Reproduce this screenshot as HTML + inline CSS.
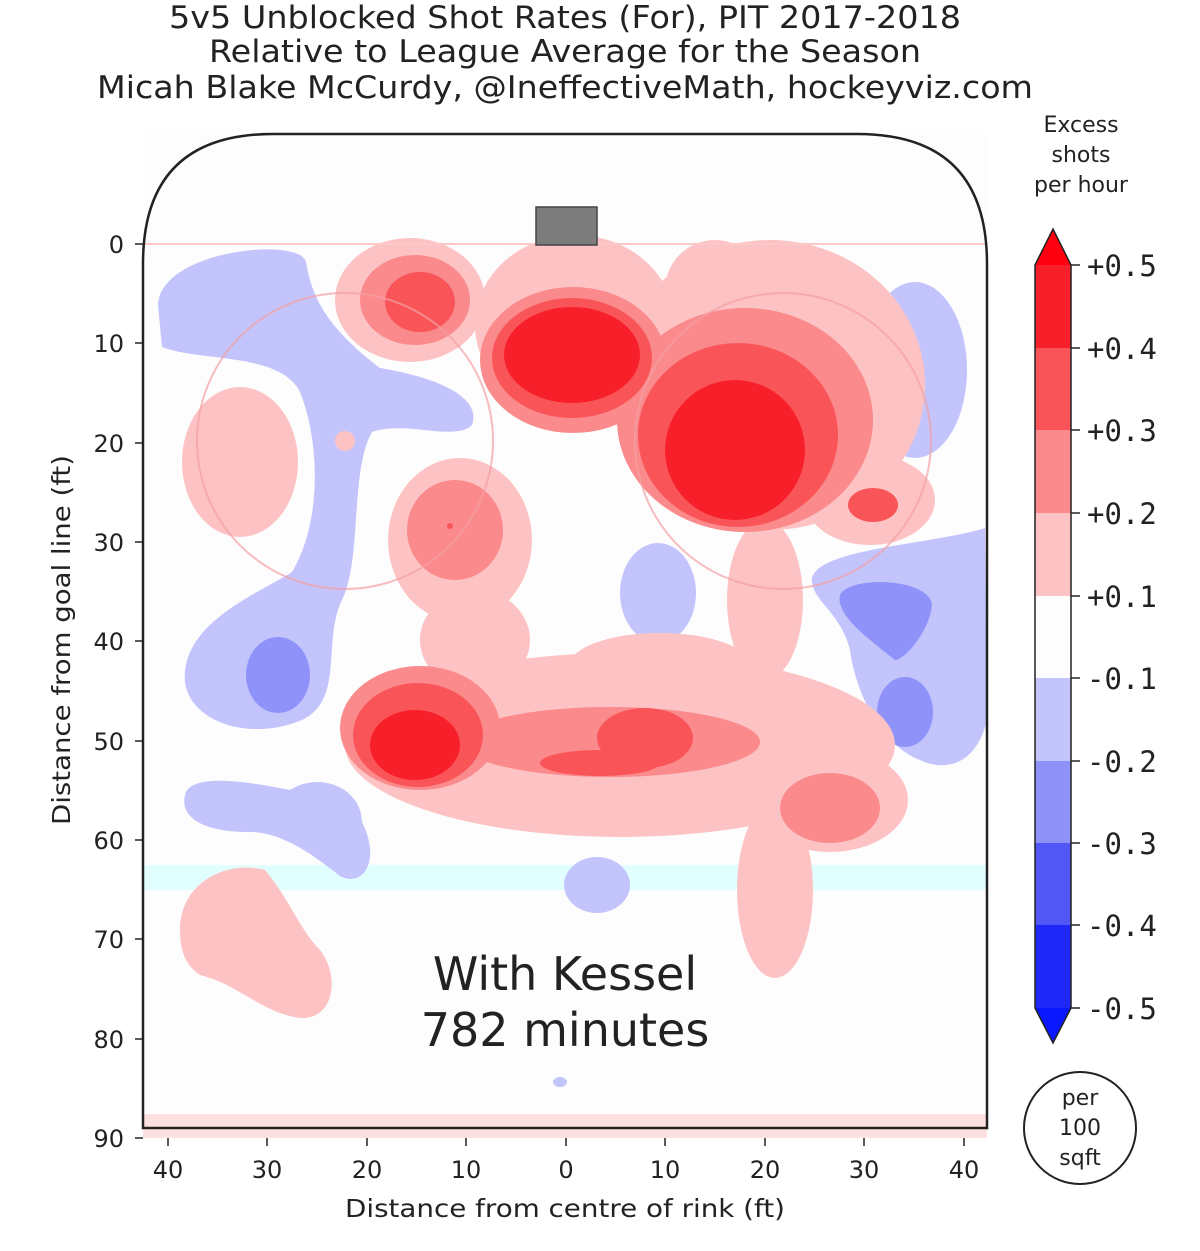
<!DOCTYPE html>
<html><head><meta charset="utf-8"><style>
body{margin:0;background:#fff;}
svg{display:block;}
text{font-family:"DejaVu Sans","Liberation Sans",sans-serif;fill:#222;}
.m{font-family:"DejaVu Sans Mono","Liberation Mono",monospace;}
</style></head><body>
<svg width="1200" height="1251" viewBox="0 0 1200 1251" xmlns="http://www.w3.org/2000/svg">
<defs><clipPath id="rk"><path d="M143,1128 L143,264 Q143,134 273,134 L857,134 Q987,134 987,264 L987,1128 Z"/></clipPath></defs>
<text x="565" y="28" font-size="31.5" text-anchor="middle" textLength="792" lengthAdjust="spacingAndGlyphs">5v5 Unblocked Shot Rates (For), PIT 2017-2018</text>
<text x="565" y="62" font-size="31.5" text-anchor="middle" textLength="712" lengthAdjust="spacingAndGlyphs">Relative to League Average for the Season</text>
<text x="565" y="98" font-size="31.5" text-anchor="middle" textLength="936" lengthAdjust="spacingAndGlyphs">Micah Blake McCurdy, @IneffectiveMath, hockeyviz.com</text>
<rect x="143" y="134" width="844" height="1004" fill="#fdfdfd"/>
<g clip-path="url(#rk)">
<rect x="143" y="865" width="844" height="25" fill="#e2ffff"/>
<rect x="525" y="255" width="80" height="40" fill="#e2ffff"/>
<g fill="#c3c4fc">
<path d="M158,305 C160,250 300,236 306,262 C312,300 330,330 380,368 C440,378 482,398 472,425 C455,442 405,420 372,432 C350,470 362,560 342,600 C322,640 345,700 302,720 C250,742 190,722 185,682 C180,622 262,592 292,572 C322,522 320,442 300,392 C280,352 200,362 162,347 Z"/>
<path d="M185,795 C190,772 250,782 290,790 C322,770 362,790 362,822 C382,862 362,888 340,876 C310,852 280,832 250,832 C200,832 180,816 185,795Z"/>
<ellipse cx="915" cy="370" rx="52" ry="88"/>
<path d="M812,578 C820,548 930,545 985,528 L987,720 C975,770 940,770 920,760 C880,745 855,690 850,650 C840,610 810,600 812,578Z"/>
<ellipse cx="658" cy="593" rx="38" ry="50"/>
<ellipse cx="597" cy="885" rx="33" ry="28"/>
<path d="M518,258 C520,240 600,240 610,255 C612,268 580,272 560,275 C520,280 516,270 518,258Z"/>
<ellipse cx="560" cy="1082" rx="7" ry="5"/>
</g>
<g fill="#8f92f9">
<ellipse cx="278" cy="675" rx="32" ry="38"/>
<path d="M840,595 C850,575 930,578 932,605 C930,630 905,660 895,660 C870,640 835,615 840,595Z"/>
<ellipse cx="905" cy="712" rx="28" ry="35"/>
</g>
<g fill="#fdc3c4">
<ellipse cx="240" cy="462" rx="58" ry="75"/>
<ellipse cx="345" cy="441" rx="10" ry="10"/>
<ellipse cx="410" cy="300" rx="75" ry="62"/>
<ellipse cx="575" cy="325" rx="100" ry="90"/>
<ellipse cx="770" cy="385" rx="155" ry="145"/>
<ellipse cx="715" cy="290" rx="50" ry="50"/>
<ellipse cx="870" cy="500" rx="65" ry="45"/>
<ellipse cx="460" cy="540" rx="72" ry="82"/>
<ellipse cx="475" cy="640" rx="55" ry="50"/>
<ellipse cx="620" cy="745" rx="275" ry="92"/>
<ellipse cx="830" cy="800" rx="78" ry="52"/>
<ellipse cx="775" cy="890" rx="38" ry="88"/>
<ellipse cx="660" cy="665" rx="90" ry="32"/>
<ellipse cx="765" cy="600" rx="38" ry="80"/>
<path d="M180,930 C180,880 230,860 265,870 C290,900 300,930 320,950 C340,975 335,1020 300,1018 C260,1012 240,985 200,975 C185,965 180,950 180,930Z"/>
</g>
<g fill="#fa8a8c">
<ellipse cx="415" cy="300" rx="55" ry="45"/>
<ellipse cx="573" cy="360" rx="93" ry="73"/>
<ellipse cx="745" cy="420" rx="128" ry="112"/>
<ellipse cx="455" cy="530" rx="48" ry="50"/>
<ellipse cx="420" cy="728" rx="80" ry="62"/>
<ellipse cx="610" cy="742" rx="150" ry="35"/>
<ellipse cx="830" cy="808" rx="50" ry="35"/>
</g>
<g fill="#f95558">
<ellipse cx="420" cy="302" rx="35" ry="30"/>
<ellipse cx="572" cy="358" rx="80" ry="60"/>
<ellipse cx="738" cy="435" rx="100" ry="92"/>
<ellipse cx="873" cy="505" rx="25" ry="17"/>
<ellipse cx="450" cy="526" rx="3" ry="3"/>
<ellipse cx="418" cy="735" rx="65" ry="52"/>
<ellipse cx="645" cy="738" rx="48" ry="30"/>
<ellipse cx="600" cy="763" rx="60" ry="13"/>
</g>
<g fill="#f7202a">
<ellipse cx="572" cy="355" rx="68" ry="48"/>
<ellipse cx="735" cy="450" rx="70" ry="70"/>
<ellipse cx="415" cy="745" rx="45" ry="35"/>
</g>
<line x1="143" y1="244" x2="987" y2="244" stroke="#ffc8c8" stroke-width="2"/>
<rect x="143" y="1114" width="844" height="24" fill="#ffe0e0"/>
<circle cx="345" cy="441" r="148" fill="none" stroke="#f4a0a4" stroke-width="2" opacity="0.7"/>
<circle cx="783" cy="441" r="148" fill="none" stroke="#f4a0a4" stroke-width="2" opacity="0.7"/>
</g>
<rect x="143" y="1128" width="844" height="10" fill="#ffe0e0"/>
<path d="M143,1128 L143,264 Q143,134 273,134 L857,134 Q987,134 987,264 L987,1128 Z" fill="none" stroke="#222" stroke-width="2.5"/>
<rect x="536" y="207" width="61" height="38" fill="#7c7c7c" stroke="#444" stroke-width="1.5"/>
<text x="565" y="990" font-size="46" text-anchor="middle" fill="#111">With Kessel</text>
<text x="565" y="1046" font-size="46" text-anchor="middle" fill="#111">782 minutes</text>
<g stroke="#222" stroke-width="1.5">
<line x1="135" y1="244" x2="143" y2="244"/><line x1="135" y1="343" x2="143" y2="343"/><line x1="135" y1="443" x2="143" y2="443"/><line x1="135" y1="542" x2="143" y2="542"/><line x1="135" y1="641" x2="143" y2="641"/><line x1="135" y1="741" x2="143" y2="741"/><line x1="135" y1="840" x2="143" y2="840"/><line x1="135" y1="939" x2="143" y2="939"/><line x1="135" y1="1039" x2="143" y2="1039"/><line x1="135" y1="1138" x2="143" y2="1138"/>
<line x1="168" y1="1138" x2="168" y2="1146"/><line x1="267" y1="1138" x2="267" y2="1146"/><line x1="367" y1="1138" x2="367" y2="1146"/><line x1="466" y1="1138" x2="466" y2="1146"/><line x1="566" y1="1138" x2="566" y2="1146"/><line x1="665" y1="1138" x2="665" y2="1146"/><line x1="765" y1="1138" x2="765" y2="1146"/><line x1="864" y1="1138" x2="864" y2="1146"/><line x1="964" y1="1138" x2="964" y2="1146"/>
</g>
<g font-size="24" text-anchor="end">
<text x="124" y="253">0</text><text x="124" y="352">10</text><text x="124" y="452">20</text><text x="124" y="551">30</text><text x="124" y="650">40</text><text x="124" y="750">50</text><text x="124" y="849">60</text><text x="124" y="948">70</text><text x="124" y="1048">80</text><text x="124" y="1147">90</text>
</g>
<g font-size="24" text-anchor="middle">
<text x="168" y="1178">40</text><text x="267" y="1178">30</text><text x="367" y="1178">20</text><text x="466" y="1178">10</text><text x="566" y="1178">0</text><text x="665" y="1178">10</text><text x="765" y="1178">20</text><text x="864" y="1178">30</text><text x="964" y="1178">40</text>
</g>
<text x="565" y="1217" font-size="25" text-anchor="middle" textLength="440" lengthAdjust="spacingAndGlyphs">Distance from centre of rink (ft)</text>
<text transform="translate(70,640) rotate(-90)" font-size="25" text-anchor="middle" textLength="370" lengthAdjust="spacingAndGlyphs">Distance from goal line (ft)</text>
<g font-size="22" text-anchor="middle">
<text x="1081" y="132">Excess</text><text x="1081" y="162">shots</text><text x="1081" y="192">per hour</text>
</g>
<polygon points="1035,265 1053,229 1071,265" fill="#ff0010"/>
<rect x="1035" y="265" width="36" height="83" fill="#f7202a"/>
<rect x="1035" y="348" width="36" height="82" fill="#f95558"/>
<rect x="1035" y="430" width="36" height="83" fill="#fa8a8c"/>
<rect x="1035" y="513" width="36" height="83" fill="#fdc3c4"/>
<rect x="1035" y="596" width="36" height="82" fill="#fdfdfd"/>
<rect x="1035" y="678" width="36" height="83" fill="#c3c4fc"/>
<rect x="1035" y="761" width="36" height="82" fill="#8f92f9"/>
<rect x="1035" y="843" width="36" height="82" fill="#5256f4"/>
<rect x="1035" y="925" width="36" height="83" fill="#2028f7"/>
<polygon points="1035,1008 1053,1043 1071,1008" fill="#0a18ff"/>
<path d="M1035,265 L1053,229 L1071,265 L1071,1008 L1053,1043 L1035,1008 Z" fill="none" stroke="#222" stroke-width="1.5"/>
<g stroke="#222" stroke-width="1.5">
<line x1="1071" y1="265" x2="1080" y2="265"/><line x1="1071" y1="348" x2="1080" y2="348"/><line x1="1071" y1="430" x2="1080" y2="430"/><line x1="1071" y1="513" x2="1080" y2="513"/><line x1="1071" y1="596" x2="1080" y2="596"/><line x1="1071" y1="678" x2="1080" y2="678"/><line x1="1071" y1="761" x2="1080" y2="761"/><line x1="1071" y1="843" x2="1080" y2="843"/><line x1="1071" y1="925" x2="1080" y2="925"/><line x1="1071" y1="1008" x2="1080" y2="1008"/>
</g>
<g font-size="29">
<text class="m" x="1087" y="276">+0.5</text><text class="m" x="1087" y="359">+0.4</text><text class="m" x="1087" y="441">+0.3</text><text class="m" x="1087" y="524">+0.2</text><text class="m" x="1087" y="607">+0.1</text><text class="m" x="1087" y="689">-0.1</text><text class="m" x="1087" y="772">-0.2</text><text class="m" x="1087" y="854">-0.3</text><text class="m" x="1087" y="936">-0.4</text><text class="m" x="1087" y="1019">-0.5</text>
</g>
<circle cx="1080" cy="1128" r="56" fill="none" stroke="#222" stroke-width="2"/>
<g font-size="22" text-anchor="middle">
<text x="1080" y="1105">per</text><text x="1080" y="1135">100</text><text x="1080" y="1165">sqft</text>
</g>
</svg>
</body></html>
